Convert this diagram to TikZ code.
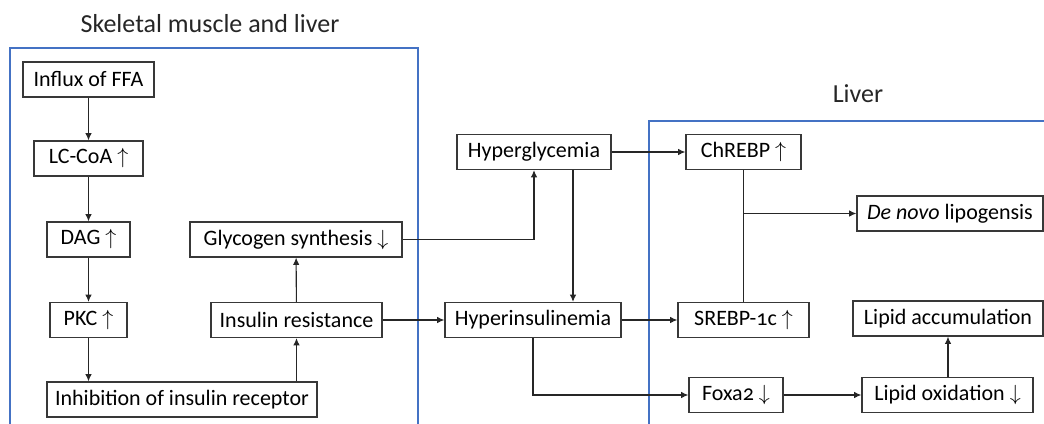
\documentclass[tikz,border=0pt]{standalone}
\usepackage{fontspec}
\setmainfont{Carlito}[Numbers=OldStyle]
\usetikzlibrary{arrows.meta}
\definecolor{frameblue}{HTML}{4472C4}
\tikzset{
  box/.style={draw=black!78, line width=0.6pt, inner sep=0pt, minimum height=17.5pt, font=\fontsize{11}{13}\selectfont},
  conn/.style={line width=0.55pt, draw=black!85},
  arr/.style={conn, -{Latex[length=3.6pt,width=3.2pt]}},
  frame/.style={draw=frameblue, line width=0.8pt},
  region/.style={font=\fontsize{13}{15}\selectfont, text=black!85}
}
\newcommand{\up}{\ $\uparrow$}
\newcommand{\dn}{\ $\downarrow$}
\begin{document}
\begin{tikzpicture}[x=0.5pt,y=-0.5pt]
\useasboundingbox (0,0) rectangle (1044,423);
% frames
\draw[frame] (10,430) -- (10,48) -- (418,48) -- (418,430);
\draw[frame] (1050,121) -- (649,121) -- (649,430);
\node[region] (t1) at (210,24) {Skeletal muscle and liver};
\node[region] (t2) at (858,94) {Liver};
% nodes
\node[box, minimum width=65.5pt] (ffa) at (88.5,79.5) {Influx of FFA};
\node[box, minimum width=54.5pt] (lccoa) at (88.5,158.5) {LC-CoA\up};
\node[box, minimum width=41.5pt] (dag) at (88.5,239.5) {DAG\up};
\node[box, minimum width=38.5pt] (pkc) at (88.5,320) {PKC\up};
\node[box, minimum width=135pt] (inh) at (182,399.5) {Inhibition of insulin receptor};
\node[box, minimum width=85.5pt] (ir) at (296.5,320) {Insulin resistance};
\node[box, minimum width=106pt] (gs) at (296,239.5) {Glycogen synthesis\dn};
\node[box, minimum width=77pt] (hg) at (534,152) {Hyperglycemia};
\node[box, minimum width=88pt] (hi) at (533,320) {Hyperinsulinemia};
\node[box, minimum width=57.5pt] (ch) at (743.5,152) {ChREBP\up};
\node[box, minimum width=93pt] (dnl) at (950,213.5) {\textit{De novo} lipogensis};
\node[box, minimum width=65.5pt] (sre) at (743.5,320) {SREBP-1c\up};
\node[box, minimum width=95pt] (la) at (948,318.5) {Lipid accumulation};
\node[box, minimum width=47pt] (fox) at (736,395) {Foxa2\dn};
\node[box, minimum width=85.5pt] (lox) at (947.5,395) {Lipid oxidation\dn};
% connectors
\draw[arr] (ffa) -- (lccoa);
\draw[arr] (lccoa) -- (dag);
\draw[arr] (dag) -- (pkc);
\draw[arr] (pkc.south) -- (pkc.south |- inh.north);
\draw[arr] (ir.south |- inh.north) -- (ir.south);
\draw[arr] (ir) -- (gs);
\draw[arr] (gs.east) -| (hg.south);
\draw[arr] (ir) -- (hi);
\draw[arr] ([xshift=19.5pt]hg.south) -- ([xshift=19.5pt]hg.south |- hi.north);
\draw[arr] (hg) -- (ch);
\draw[arr] (hi) -- (sre);
\draw[conn] (ch) -- (sre);
\draw[arr] (ch.south |- dnl.west) -- (dnl.west);
\draw[arr] (hi.south) |- (fox.west);
\draw[arr] (fox) -- (lox);
\draw[arr] (lox.north -| la.south) -- (la.south);
\end{tikzpicture}
\end{document}
